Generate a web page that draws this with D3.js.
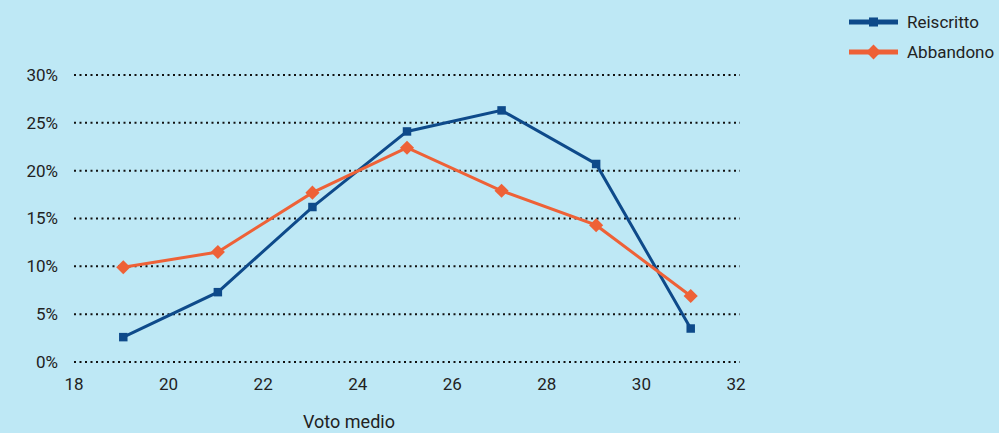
<!DOCTYPE html>
<html>
<head>
<meta charset="utf-8">
<script src="https://cdn.jsdelivr.net/npm/d3@7"></script>
<style>
  html, body { margin: 0; padding: 0; background: #bee8f5; }
  svg { display: block; font-family: Roboto, "Noto Sans", sans-serif; }
</style>
</head>
<body>
<svg id="chart" width="999" height="433"></svg>
<script>
// average grade buckets
const voti = [19, 21, 23, 25, 27, 29, 31];
const reiscritto = [2.6, 7.3, 16.2, 24.1, 26.3, 20.7, 3.5];
const abbandono = [9.9, 11.5, 17.7, 22.4, 17.9, 14.3, 6.9];
const xTicks = [18, 20, 22, 24, 26, 28, 30, 32];
const yTicks = [0, 5, 10, 15, 20, 25, 30];

const series = [
  { name: 'Reiscritto', values: reiscritto, color: '#0e4a8a', size: 72, rotate: 0 },
  { name: 'Abbandono', values: abbandono, color: '#ee6137', size: 100, rotate: 45 },
];

const svg = d3.select('#chart');
const x = d3.scaleLinear().domain([18, 32]).range([76, 738]);
const y = d3.scaleLinear().domain([0, 30]).range([362, 75]);

// dotted gridlines
svg.append('g')
  .selectAll('line')
  .data(yTicks)
  .join('line')
  .attr('x1', 74)
  .attr('x2', 740)
  .attr('y1', (d) => y(d))
  .attr('y2', (d) => y(d))
  .attr('stroke', '#111')
  .attr('stroke-width', 2)
  .attr('stroke-dasharray', '2,3.5');

// y labels
svg.append('g')
  .selectAll('text')
  .data(yTicks)
  .join('text')
  .attr('x', 58)
  .attr('y', (d) => y(d))
  .attr('dy', '0.35em')
  .attr('text-anchor', 'end')
  .attr('font-size', 17)
  .attr('fill', '#222')
  .text((d) => `${d}%`);

// x labels
svg.append('g')
  .selectAll('text')
  .data(xTicks)
  .join('text')
  .attr('x', (d) => x(d) - 2)
  .attr('y', 390)
  .attr('text-anchor', 'middle')
  .attr('font-size', 17)
  .attr('fill', '#222')
  .text((d) => d);

svg.append('text')
  .attr('x', 349)
  .attr('y', 428)
  .attr('text-anchor', 'middle')
  .attr('font-size', 18)
  .attr('fill', '#222')
  .text('Voto medio');

const line = d3.line()
  .x((d, i) => x(voti[i]))
  .y((d) => y(d));

const marker = d3.symbol().type(d3.symbolSquare);

series.forEach((s) => {
  svg.append('path')
    .datum(s.values)
    .attr('fill', 'none')
    .attr('stroke', s.color)
    .attr('stroke-width', 3)
    .attr('d', line);
  svg.append('g')
    .selectAll('path')
    .data(s.values)
    .join('path')
    .attr('transform', (d, i) => `translate(${x(voti[i])},${y(d)}) rotate(${s.rotate})`)
    .attr('fill', s.color)
    .attr('d', marker.size(s.size)());
});

// legend
const legend = svg.append('g')
  .selectAll('g')
  .data(series)
  .join('g')
  .attr('transform', (d, i) => `translate(849,${22 + i * 30})`);
legend.append('line')
  .attr('x1', 0)
  .attr('x2', 49)
  .attr('stroke', (d) => d.color)
  .attr('stroke-width', 5);
legend.append('path')
  .attr('transform', (d) => `translate(24.5,0) rotate(${d.rotate})`)
  .attr('fill', (d) => d.color)
  .attr('d', (d) => marker.size(d.size + 10)());
legend.append('text')
  .attr('x', 58)
  .attr('dy', '0.35em')
  .attr('font-size', 17)
  .attr('fill', '#222')
  .text((d) => d.name);
</script>
</body>
</html>
